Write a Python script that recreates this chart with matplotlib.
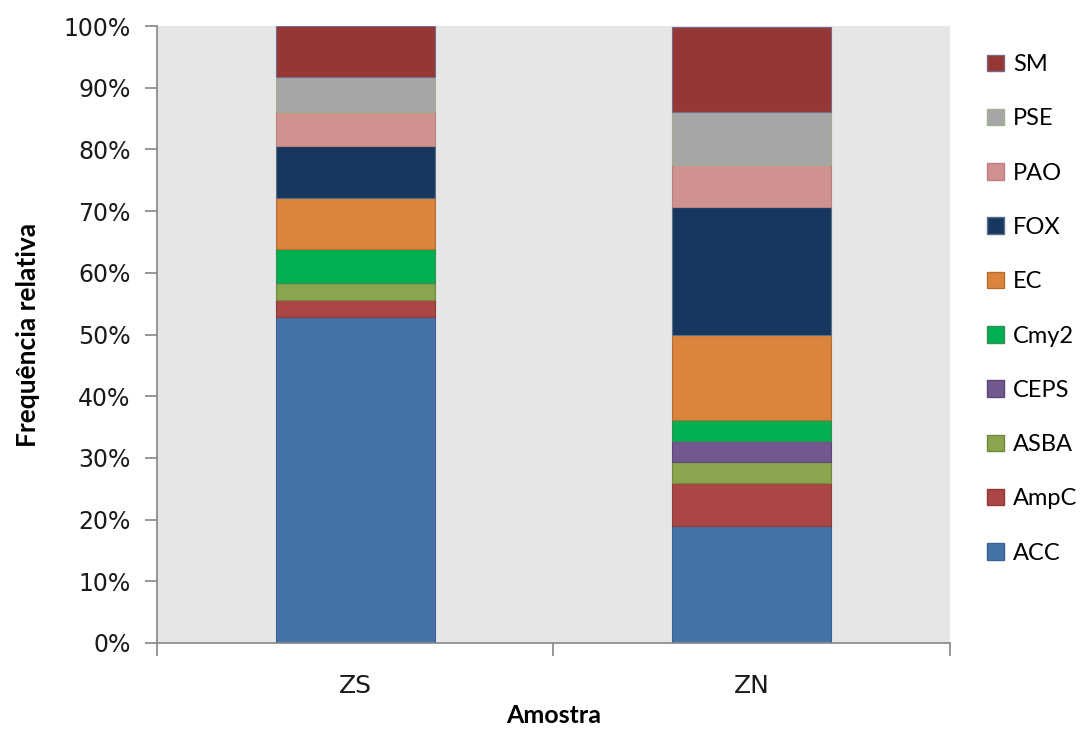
import matplotlib.pyplot as plt
from matplotlib.patches import Patch
from matplotlib.ticker import PercentFormatter

samples = ['ZS', 'ZN']
genes = ['ACC', 'AmpC', 'ASBA', 'CEPS', 'Cmy2', 'EC', 'FOX', 'PAO', 'PSE', 'SM']
# relative frequency (%) of each gene group per sample
zs = [52.8, 2.8, 2.8, 0.0, 5.5, 8.3, 8.3, 5.6, 5.6, 8.3]
zn = [19.0, 6.9, 3.4, 3.4, 3.4, 13.8, 20.7, 6.9, 8.6, 13.8]
colors = ['#4572a7', '#aa4643', '#89a54e', '#71588f', '#00b050',
          '#db843d', '#17375e', '#d09291', '#a6a6a6', '#953735']
edges = ['#3a6290', '#8e3a38', '#71893f', '#5c4776', '#2f8f55',
         '#b86d30', '#5a6f8a', '#b5807f', '#9fb28a', '#7a6a8a']

fig = plt.figure(figsize=(10.84, 7.31), dpi=100)
ax = fig.add_axes([0.1448, 0.1204, 0.7316, 0.844])
ax.set_facecolor('#e6e6e6')

x = [0, 1]
bottom = [0.0, 0.0]
for i, g in enumerate(genes):
    vals = [zs[i], zn[i]]
    ax.bar(x, vals, width=0.4, bottom=bottom, color=colors[i],
           edgecolor=edges[i], linewidth=0.8, zorder=2)
    bottom = [b + v for b, v in zip(bottom, vals)]

ax.set_xlim(-0.5, 1.5)
ax.set_ylim(0, 100)
ax.set_yticks(range(0, 101, 10))
ax.yaxis.set_major_formatter(PercentFormatter(decimals=0))
ax.set_xticks([-0.5, 0.5, 1.5])
ax.set_xticklabels([])
ax.set_xticks(x, minor=True)
ax.set_xticklabels(samples, minor=True)

for s in ['top', 'right']:
    ax.spines[s].set_visible(False)
for s in ['left', 'bottom']:
    ax.spines[s].set_color('#868686')
    ax.spines[s].set_linewidth(1.2)

ax.tick_params(axis='y', which='major', length=9, width=1.2, color='#868686',
               labelsize=17, labelcolor='#1a1a1a', pad=10)
ax.tick_params(axis='x', which='major', length=9, width=1.2, color='#868686')
ax.tick_params(axis='x', which='minor', length=0, labelsize=18,
               labelcolor='#1a1a1a', pad=22)
for lbl in ax.get_yticklabels() + ax.get_xticklabels(minor=True):
    lbl.set_fontfamily('DejaVu Sans')

ax.set_ylabel('Frequência relativa', fontsize=19, fontweight='bold',
              fontfamily='Lato', labelpad=17)
ax.set_xlabel('Amostra', fontsize=18, fontweight='bold',
              fontfamily='Lato', labelpad=5)

handles = [Patch(facecolor=colors[i], edgecolor=edges[i], label=genes[i])
           for i in range(len(genes))][::-1]
fig.legend(handles=handles, loc='upper left', bbox_to_anchor=(0.891, 0.955),
           frameon=False, prop={'family': 'Lato', 'size': 17},
           handlelength=0.7, handleheight=0.7, handletextpad=0.4,
           labelspacing=1.41)

fig.savefig('out.png', dpi=100)
